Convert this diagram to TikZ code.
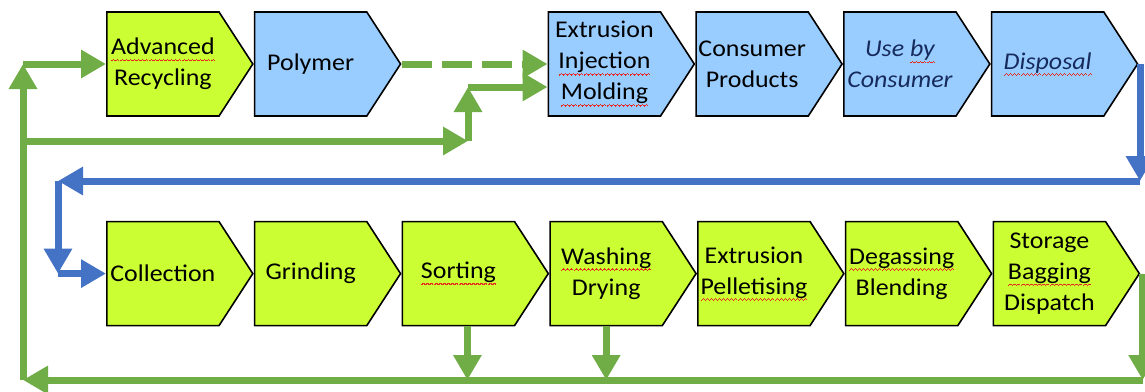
\documentclass[tikz,border=0pt]{standalone}
\usepackage{fontspec}
\setmainfont{Carlito}[FakeStretch=1.08]
\usepackage{tikz}
\usetikzlibrary{arrows.meta,positioning,shapes.symbols}

\definecolor{limefill}{RGB}{204,255,51}
\definecolor{skyfill}{RGB}{153,204,255}
\definecolor{flowgreen}{RGB}{112,173,71}
\definecolor{flowblue}{RGB}{68,114,196}
\definecolor{navytext}{RGB}{22,42,92}
\definecolor{spellred}{RGB}{230,40,30}

% red wavy mark under a word (drawn with small rules)
\newcommand{\wavebit}{\hbox{\rule[-3.3pt]{0.5pt}{0.55pt}\rule[-2.95pt]{0.5pt}{0.55pt}%
  \rule[-2.6pt]{0.5pt}{0.55pt}\rule[-2.95pt]{0.5pt}{0.55pt}}}
\newcommand{\spellchk}[1]{\leavevmode\setbox0\hbox{#1}%
  \rlap{\textcolor{spellred}{\hbox to \wd0{\xleaders\wavebit\hfill}}}\box0}

\begin{document}
\begin{tikzpicture}[
  node distance=0pt,
  stage/.style={signal, signal to=east, signal from=nowhere, signal pointer angle=114,
    draw=black, line width=0.8pt, minimum width=73pt, minimum height=52pt,
    inner sep=1pt, align=center, font=\fontsize{12}{15.5}\selectfont},
  recov/.style={stage, fill=limefill},
  plast/.style={stage, fill=skyfill},
  usertext/.style={font=\fontsize{12}{15.5}\selectfont\itshape, text=navytext},
  gflow/.style={-{Triangle[length=12.5pt,width=13.5pt]}, line width=3.5pt, draw=flowgreen},
  bflow/.style={-{Triangle[length=12.5pt,width=13.5pt]}, line width=3.5pt, draw=flowblue}
]
\useasboundingbox (0,0) rectangle (572.5pt,-195.5pt);

% upper row
\node[recov, anchor=west] (adv) at (53pt,-32pt) {\spellchk{Advanced}\\Recycling};
\node[plast, right=of adv] (poly) {Polymer};
\node[plast, right=73pt of poly] (molding) {Extrusion\\\spellchk{Injection}\\\spellchk{Molding}};
\node[plast, right=of molding] (products) {Consumer\\Products};
\node[plast, usertext, right=of products] (use) {Use \spellchk{by}\\Consumer};
\node[plast, usertext, right=of use] (disposal) {\spellchk{Disposal}};

% lower row
\node[recov, below=52pt of adv] (collect) {Collection};
\node[recov, right=of collect] (grind) {Grinding};
\node[recov, right=of grind] (sort) {\spellchk{Sorting}};
\node[recov, right=of sort] (wash) {\spellchk{Washing}\\Drying};
\node[recov, right=of wash] (pellet) {Extrusion\\\spellchk{Pelletising}};
\node[recov, right=of pellet] (degas) {\spellchk{Degassing}\\Blending};
\node[recov, right=of degas] (dispatch) {Storage\\\spellchk{Bagging}\\Dispatch};

% turning points
\coordinate (leftbot) at (11.5pt,-190pt);
\coordinate (lefttop) at (leftbot |- adv.west);
\coordinate (branch) at (11.5pt,-70.5pt);
\coordinate (fork) at (234pt,-70.5pt);
\coordinate (forktop) at (234pt,-43.5pt);
\coordinate (rightbot) at ([xshift=1.2pt]dispatch.east |- leftbot);
\coordinate (blueturn) at (570pt,-90.5pt);
\coordinate (blueleft) at (29pt,-90.5pt);
\coordinate (bluedown) at (blueleft |- collect.west);

% disposal back to collection
\draw[bflow] (disposal.east -| blueturn) -- (blueturn);
\draw[bflow] (blueturn) -- (blueleft);
\draw[bflow] (blueleft) -- (bluedown);
\draw[bflow] (bluedown) -- (collect.west);

% recycled material loop
\draw[gflow] (dispatch.east -| rightbot) -- (rightbot);
\draw[gflow] ([xshift=4.5pt]sort.south) -- ([xshift=4.5pt]sort.south |- leftbot);
\draw[gflow] (wash.south) -- (wash.south |- leftbot);
\draw[gflow] (rightbot) -- (leftbot);
\draw[gflow] (leftbot) -- (lefttop);
\draw[gflow] (lefttop) -- (adv.west);
\draw[gflow] (branch) -- (fork);
\draw[gflow] (fork) -- (forktop);
\draw[gflow] (forktop) -- (forktop -| molding.west);
\draw[gflow, dash pattern=on 15pt off 5pt] (poly.east) -- (molding.west);
\end{tikzpicture}
\end{document}
